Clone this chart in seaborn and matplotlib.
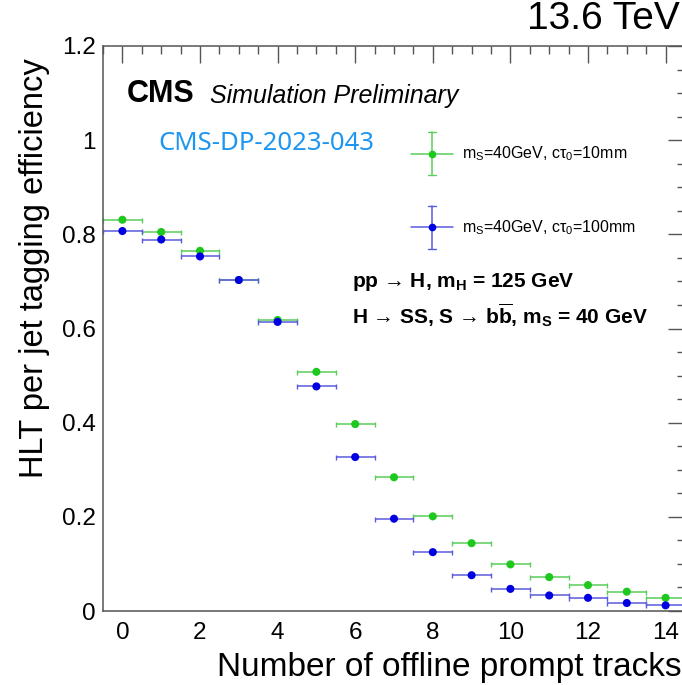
import matplotlib
matplotlib.use("Agg")
import matplotlib.pyplot as plt
from matplotlib.ticker import MultipleLocator
import pandas as pd
import seaborn as sns

# values
tracks = list(range(15))
eff_10mm = [0.831, 0.805, 0.765, 0.703, 0.618, 0.508, 0.397, 0.284, 0.201,
            0.144, 0.099, 0.072, 0.055, 0.041, 0.028]
eff_100mm = [0.807, 0.789, 0.753, 0.703, 0.614, 0.477, 0.327, 0.196, 0.125,
             0.076, 0.047, 0.033, 0.028, 0.017, 0.012]
bin_half_width = 0.5
samples = ["10mm", "100mm"]
legend_labels = [r"m$_{\rm S}$=40GeV, cτ$_{\rm 0}$=10mm",
                 r"m$_{\rm S}$=40GeV, cτ$_{\rm 0}$=100mm"]
marker_colors = {"10mm": "#1ec81e", "100mm": "#0000e0"}
bar_colors = {"10mm": "#5acd5a", "100mm": "#5a5ade"}

df = pd.concat([
    pd.DataFrame({"tracks": tracks, "eff": eff_10mm, "sample": "10mm"}),
    pd.DataFrame({"tracks": tracks, "eff": eff_100mm, "sample": "100mm"}),
], ignore_index=True)

sns.set_theme(style="white")
plt.rcParams["font.family"] = ["Liberation Sans", "DejaVu Sans"]
plt.rcParams["text.color"] = "black"
plt.rcParams["axes.labelcolor"] = "black"
plt.rcParams["mathtext.fontset"] = "custom"
plt.rcParams["mathtext.rm"] = "Liberation Sans"
plt.rcParams["mathtext.it"] = "Liberation Sans:italic"
plt.rcParams["mathtext.bf"] = "Liberation Sans:bold"

fig = plt.figure(figsize=(6.82, 6.85), dpi=100)
ax = fig.add_axes([103 / 682, 74 / 685, 582 / 682, 565 / 685])

for s in samples:
    d = df[df["sample"] == s]
    ax.errorbar(d["tracks"], d["eff"], xerr=bin_half_width, fmt="none",
                ecolor=bar_colors[s], elinewidth=1.1, capsize=1.8,
                capthick=1.0, zorder=2)
sns.scatterplot(data=df, x="tracks", y="eff", hue="sample", palette=marker_colors,
                s=34, linewidth=0, legend=False, zorder=3, ax=ax)

ax.set_xlim(-0.5, 14.5)
ax.set_ylim(0, 1.2)
ax.xaxis.set_major_locator(MultipleLocator(2))
ax.xaxis.set_minor_locator(MultipleLocator(0.5))
ax.yaxis.set_minor_locator(MultipleLocator(0.05))
ax.set_yticks([0, 0.2, 0.4, 0.6, 0.8, 1.0, 1.2],
              ["0", "0.2", "0.4", "0.6", "0.8", "1", "1.2"])
ax.tick_params(which="both", direction="in", top=True, right=True,
               color="#555555", labelcolor="black", width=1.0, labelsize=17.5)
ax.tick_params(which="major", length=12)
ax.tick_params(which="minor", length=6)
ax.tick_params(axis="x", pad=8)
ax.tick_params(axis="y", pad=5)
for sp in ax.spines.values():
    sp.set_color("#555555")
    sp.set_linewidth(1.1)
ax.set_xlabel("")
ax.set_ylabel("")

fig.text(0.051, 0.608, "HLT per jet tagging efficiency", rotation=90,
         ha="center", va="center", fontsize=23.5)
fig.text(0.999, 0.026, "Number of offline prompt tracks", ha="right",
         va="center", fontsize=24)
fig.text(0.997, 0.958, "13.6 TeV", ha="right", va="baseline", fontsize=28)

ax.text(0.041, 0.900, "CMS", transform=ax.transAxes, fontsize=22,
        fontweight="bold", va="baseline")
ax.text(0.184, 0.899, "Simulation Preliminary", transform=ax.transAxes,
        fontsize=18, style="italic", va="baseline")
ax.text(0.0945, 0.816, "CMS-DP-2023-043", transform=ax.transAxes,
        fontsize=18.5, color="#1e96f0", va="baseline", family="Noto Sans")
ax.text(0.427, 0.574, r"pp → H, m$_{\mathbf{H}}$ = 125 GeV",
        transform=ax.transAxes, fontsize=15, fontweight="bold", va="baseline")
ax.text(0.427, 0.509,
        r"H → SS, S → b$\mathbf{\overline{b}}$, m$_{\mathbf{S}}$ = 40 GeV",
        transform=ax.transAxes, fontsize=15, fontweight="bold", va="baseline")

# hand-made legend: error-bar crosses like ROOT draws them
leg_x, leg_y = 0.565, [0.809, 0.679]
for s, ly, lab in zip(samples, leg_y, legend_labels):
    ax.plot([leg_x - 0.036, leg_x + 0.036], [ly, ly], color=bar_colors[s],
            lw=1.1, transform=ax.transAxes)
    ax.plot([leg_x, leg_x], [ly - 0.038, ly + 0.038], color=bar_colors[s],
            lw=1.1, transform=ax.transAxes)
    for cy in (ly - 0.038, ly + 0.038):
        ax.plot([leg_x - 0.007, leg_x + 0.007], [cy, cy], color=bar_colors[s],
                lw=1.0, transform=ax.transAxes)
    ax.plot([leg_x], [ly], "o", ms=4.5, color=marker_colors[s],
            transform=ax.transAxes)
    ax.text(0.617, ly, lab, transform=ax.transAxes, fontsize=11.5, va="center")

fig.savefig("out.png", dpi=100)
